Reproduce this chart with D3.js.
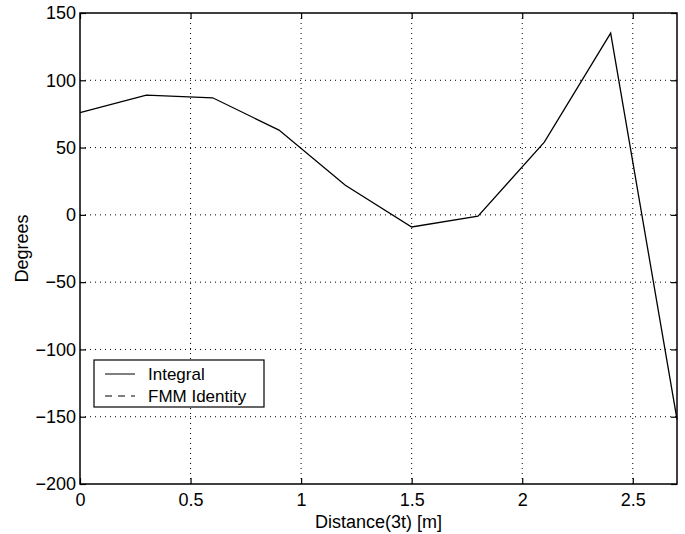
<!DOCTYPE html>
<html>
<head>
<meta charset="utf-8">
<script src="https://cdn.jsdelivr.net/npm/d3@7"></script>
<style>
  body { margin: 0; background: #fff; }
  svg { display: block; font-family: "Liberation Sans", Arial, sans-serif; }
</style>
</head>
<body>
<svg id="chart" width="685" height="534"></svg>
<script>
// data
const distance = [0, 0.3, 0.6, 0.9, 1.2, 1.5, 1.8, 2.1, 2.4, 2.7];
const integral = [76, 89, 87, 63, 22, -9, -1, 54, 135, -152];
const xTicks = [0, 0.5, 1, 1.5, 2, 2.5];
const yTicks = [-200, -150, -100, -50, 0, 50, 100, 150];
const legendItems = ["Integral", "FMM Identity"];

const margin = { top: 13, right: 8, bottom: 50, left: 80 };
const width = 685, height = 534;
const fontSize = 18;

const svg = d3.select("#chart");

const x = d3.scaleLinear()
  .domain([0, 2.7])
  .range([margin.left, width - margin.right]);

const y = d3.scaleLinear()
  .domain([-200, 150])
  .range([height - margin.bottom, margin.top]);

const x0 = x.range()[0], x1 = x.range()[1];
const y0 = y.range()[0], y1 = y.range()[1];

// grid
const grid = svg.append("g")
  .attr("stroke", "#000")
  .attr("stroke-width", 1)
  .attr("stroke-dasharray", "1,4");

grid.selectAll(".gx")
  .data(xTicks.filter(d => d > 0))
  .join("line")
  .attr("x1", d => x(d)).attr("x2", d => x(d))
  .attr("y1", y1).attr("y2", y0);

grid.selectAll(".gy")
  .data(yTicks.filter(d => d > -200 && d < 150))
  .join("line")
  .attr("x1", x0).attr("x2", x1)
  .attr("y1", d => y(d)).attr("y2", d => y(d));

// axes with inward ticks
const axisStyle = g => {
  g.select(".domain").remove();
  g.selectAll(".tick line").attr("stroke", "#000").attr("stroke-width", 1.2);
  g.selectAll(".tick text")
    .attr("fill", "#000")
    .attr("font-size", fontSize);
};

svg.append("g")
  .attr("transform", `translate(0,${y0})`)
  .call(d3.axisBottom(x).tickValues(xTicks).tickFormat(d3.format("")).tickSizeInner(-6).tickPadding(9))
  .call(axisStyle);

svg.append("g")
  .attr("transform", `translate(0,${y1})`)
  .call(d3.axisTop(x).tickValues(xTicks).tickFormat("").tickSizeInner(-6))
  .call(axisStyle);

svg.append("g")
  .attr("transform", `translate(${x0},0)`)
  .call(d3.axisLeft(y).tickValues(yTicks).tickFormat(d => d < 0 ? "\u2212" + Math.abs(d) : d).tickSizeInner(-6).tickPadding(4))
  .call(axisStyle);

svg.append("g")
  .attr("transform", `translate(${x1},0)`)
  .call(d3.axisRight(y).tickValues(yTicks).tickFormat("").tickSizeInner(-6))
  .call(axisStyle);

// frame
svg.append("rect")
  .attr("x", x0).attr("y", y1)
  .attr("width", x1 - x0).attr("height", y0 - y1)
  .attr("fill", "none")
  .attr("stroke", "#000")
  .attr("stroke-width", 1.5);

// series
const line = d3.line()
  .x((d, i) => x(distance[i]))
  .y(d => y(d));

svg.append("path")
  .datum(integral)
  .attr("fill", "none")
  .attr("stroke", "#000")
  .attr("stroke-width", 1.3)
  .attr("stroke-linejoin", "miter")
  .attr("d", line);

// axis labels
svg.append("text")
  .attr("x", (x0 + x1) / 2)
  .attr("y", 528)
  .attr("text-anchor", "middle")
  .attr("font-size", fontSize)
  .text("Distance(3t) [m]");

svg.append("text")
  .attr("transform", `translate(28,${(y0 + y1) / 2}) rotate(-90)`)
  .attr("text-anchor", "middle")
  .attr("font-size", fontSize)
  .text("Degrees");

// legend
const legend = svg.append("g").attr("transform", "translate(94,360)");

legend.append("rect")
  .attr("width", 170).attr("height", 47)
  .attr("fill", "#fff")
  .attr("stroke", "#000")
  .attr("stroke-width", 1.2);

const rows = legend.selectAll(".row")
  .data(legendItems)
  .join("g")
  .attr("transform", (d, i) => `translate(0,${14 + i * 22})`);

rows.append("line")
  .attr("x1", 11).attr("x2", 41)
  .attr("y1", 0).attr("y2", 0)
  .attr("stroke", "#000")
  .attr("stroke-width", 1)
  .attr("stroke-dasharray", (d, i) => i === 1 ? "7,6" : null);

rows.append("text")
  .attr("x", 54)
  .attr("y", 6)
  .attr("font-size", 17)
  .text(d => d);
</script>
</body>
</html>
